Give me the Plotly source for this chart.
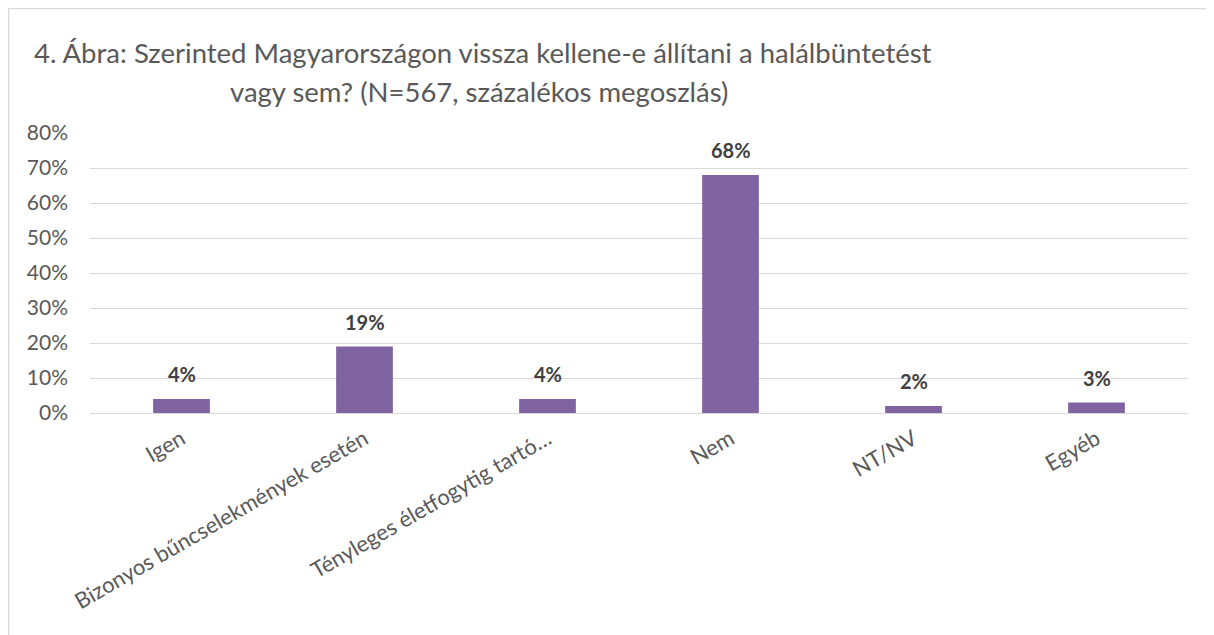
import plotly.graph_objects as go

categories = ["Igen", "Bizonyos bűncselekmények esetén", "Tényleges életfogytig tartó…", "Nem", "NT/NV", "Egyéb"]
values = [0.04, 0.19, 0.04, 0.68, 0.02, 0.03]
labels = ["4%", "19%", "4%", "68%", "2%", "3%"]
y_ticks = [0, 0.1, 0.2, 0.3, 0.4, 0.5, 0.6, 0.7, 0.8]
y_tick_text = ["0%", "10%", "20%", "30%", "40%", "50%", "60%", "70%", "80%"]
title_line1 = "4. Ábra: Szerinted Magyarországon vissza kellene-e állítani a halálbüntetést"
title_line2 = "vagy sem? (N=567, százalékos megoszlás)"

FONT = "Lato, Calibri, Carlito, sans-serif"
GRAY = "#595959"

fig = go.Figure()
fig.add_trace(go.Bar(
    x=categories, y=values,
    marker=dict(color="#8064A2", line=dict(width=0)),
    hoverinfo="skip",
))

for c, v, t in zip(categories, values, labels):
    fig.add_annotation(x=c, y=v, text="<b>%s</b>" % t, showarrow=False,
                       yanchor="bottom", yshift=11,
                       font=dict(family=FONT, size=20, color="#404040"))

fig.add_annotation(xref="paper", yref="paper", x=-0.0528, y=1.289, xanchor="left", yanchor="middle",
                   text=title_line1, showarrow=False,
                   font=dict(family=FONT, size=27.5, color=GRAY))
fig.add_annotation(xref="paper", yref="paper", x=0.1257, y=1.147, xanchor="left", yanchor="middle",
                   text=title_line2, showarrow=False,
                   font=dict(family=FONT, size=27.5, color=GRAY))

# outer chart border
fig.add_shape(type="rect", xref="paper", yref="paper",
              x0=-0.0742, x1=1.05, y0=-0.9, y1=1.4446,
              line=dict(color="#d9d9d9", width=1.5), fillcolor="rgba(0,0,0,0)", layer="below")

fig.update_layout(
    width=1214, height=635,
    margin=dict(l=82, r=34, t=125, b=230),
    paper_bgcolor="white", plot_bgcolor="white",
    bargap=0.69,
    showlegend=False,
    xaxis=dict(tickangle=-30, tickfont=dict(family=FONT, size=22, color=GRAY),
               ticklabelstandoff=8,
               showgrid=False, showline=False, ticks="", automargin=False),
    yaxis=dict(range=[0, 0.8], tickvals=y_ticks, ticktext=y_tick_text,
               tickfont=dict(family=FONT, size=21, color=GRAY),
               ticklabelstandoff=21,
               showgrid=True, gridcolor="#d9d9d9", gridwidth=1,
               zeroline=True, zerolinecolor="#d9d9d9", zerolinewidth=1,
               showline=False, ticks="", ticklen=0, automargin=False),
)

fig.write_html("out.html")
